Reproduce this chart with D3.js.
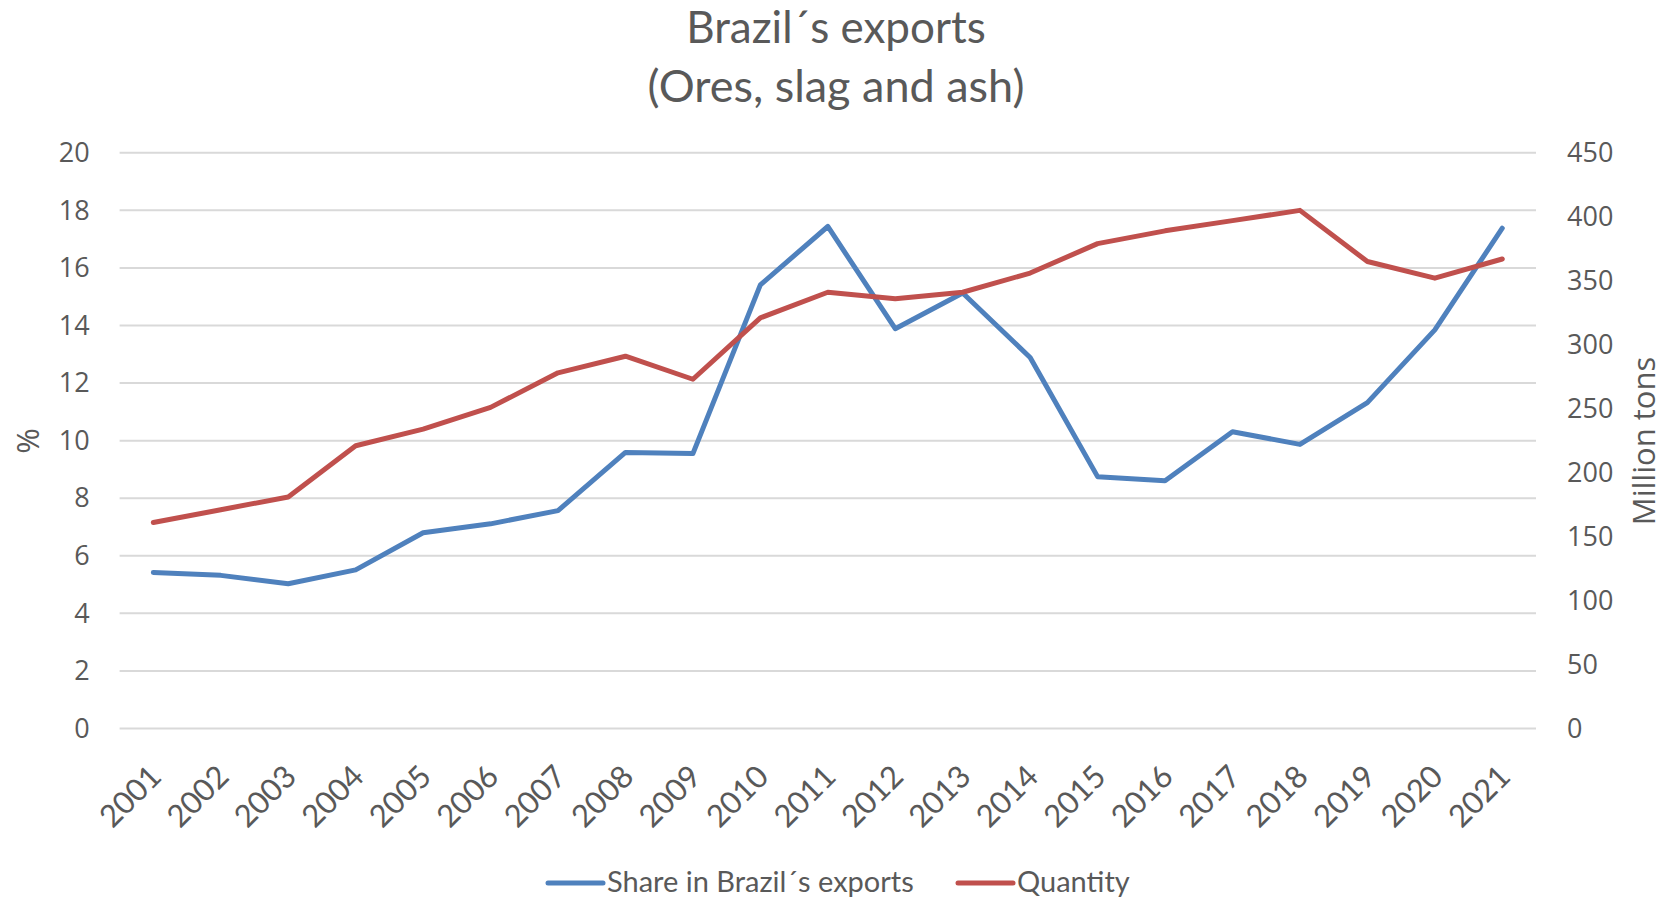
<!DOCTYPE html>
<html>
<head>
<meta charset="utf-8">
<script src="https://cdn.jsdelivr.net/npm/d3@7"></script>
<style>
  body { margin: 0; background: #fff; }
  svg { display: block; }
  .tick text { fill: #595959; }
</style>
</head>
<body>
<div class="chart"></div>
<script>
const years = ['2001', '2002', '2003', '2004', '2005', '2006', '2007', '2008', '2009', '2010', '2011',
  '2012', '2013', '2014', '2015', '2016', '2017', '2018', '2019', '2020', '2021'];
// share of ores, slag and ash in Brazil's exports (%)
const share = [5.42, 5.32, 5.03, 5.51, 6.80, 7.11, 7.57, 9.59, 9.55, 15.41, 17.44,
  13.89, 15.13, 12.89, 8.75, 8.61, 10.31, 9.87, 11.32, 13.85, 17.38];
// quantity, million tons
const quantity = [161, 171, 181, 221, 234, 251, 278, 291, 273, 321, 341,
  336, 341, 356, 379, 389, 397, 405, 365, 352, 367];
const leftTicks = [0, 2, 4, 6, 8, 10, 12, 14, 16, 18, 20];
const rightTicks = [0, 50, 100, 150, 200, 250, 300, 350, 400, 450];
const seriesNames = ['Share in Brazil´s exports', 'Quantity'];

const width = 1675;
const height = 900;
const plot = { left: 119.6, right: 1536, top: 152.8, bottom: 728.5 };
const blue = '#4f81bd';
const red = '#c0504d';
const textColor = '#595959';

const svg = d3.select('.chart').append('svg')
    .attr('width', width)
    .attr('height', height);

const x = d3.scaleBand().domain(years).range([plot.left, plot.right]).padding(0);
const yL = d3.scaleLinear().domain([0, 20]).range([plot.bottom, plot.top]);
const yR = d3.scaleLinear().domain([0, 450]).range([plot.bottom, plot.top]);
const cx = d => x(d) + x.bandwidth() / 2;

// title
svg.append('text')
    .attr('x', 836).attr('y', 43)
    .attr('text-anchor', 'middle')
    .style('font-family', 'Lato')
    .style('font-size', '44px')
    .style('fill', textColor)
    .text('Brazil´s exports');
svg.append('text')
    .attr('x', 836).attr('y', 102)
    .attr('text-anchor', 'middle')
    .style('font-family', 'Lato')
    .style('font-size', '45px')
    .style('fill', textColor)
    .text('(Ores, slag and ash)');

// gridlines
svg.append('g')
  .selectAll('line')
    .data(leftTicks)
  .enter().append('line')
    .attr('x1', plot.left)
    .attr('x2', plot.right)
    .attr('y1', d => yL(d))
    .attr('y2', d => yL(d))
    .attr('stroke', '#d9d9d9')
    .attr('stroke-width', 2);

// y axes
const left = svg.append('g')
    .attr('transform', `translate(${plot.left}, 0)`)
    .call(d3.axisLeft(yL).tickValues(leftTicks).tickSize(0).tickPadding(30));
const right = svg.append('g')
    .attr('transform', `translate(${plot.right}, 0)`)
    .call(d3.axisRight(yR).tickValues(rightTicks).tickSize(0).tickPadding(31));
[left, right].forEach(g => {
  g.select('.domain').remove();
  g.selectAll('text')
      .style('font-family', 'Open Sans')
      .style('font-size', '27px');
});

svg.append('text')
    .attr('transform', 'translate(39, 441) rotate(-90)')
    .attr('text-anchor', 'middle')
    .style('font-family', 'Open Sans')
    .style('font-size', '31px')
    .style('fill', textColor)
    .text('%');
svg.append('text')
    .attr('transform', 'translate(1655, 441) rotate(-90)')
    .attr('text-anchor', 'middle')
    .style('font-family', 'Open Sans')
    .style('font-size', '31px')
    .style('fill', textColor)
    .text('Million tons');

// x labels
svg.append('g')
  .selectAll('text')
    .data(years)
  .enter().append('text')
    .attr('transform', d => `translate(${cx(d) + 10}, ${plot.bottom + 50}) rotate(-45)`)
    .attr('text-anchor', 'end')
    .style('font-family', 'Lato')
    .style('font-size', '31px')
    .style('fill', textColor)
    .text(d => d);

// lines
const shareLine = d3.line()
    .x((d, i) => cx(years[i]))
    .y(d => yL(d));
const qtyLine = d3.line()
    .x((d, i) => cx(years[i]))
    .y(d => yR(d));

svg.append('path')
    .datum(share)
    .attr('fill', 'none')
    .attr('stroke', blue)
    .attr('stroke-width', 5)
    .attr('stroke-linejoin', 'round')
    .attr('stroke-linecap', 'round')
    .attr('d', shareLine);

svg.append('path')
    .datum(quantity)
    .attr('fill', 'none')
    .attr('stroke', red)
    .attr('stroke-width', 5)
    .attr('stroke-linejoin', 'round')
    .attr('stroke-linecap', 'round')
    .attr('d', qtyLine);

// legend
const legend = [
  { name: seriesNames[0], color: blue, x: 548 },
  { name: seriesNames[1], color: red, x: 958 },
];
const lg = svg.append('g').selectAll('g')
    .data(legend)
  .enter().append('g')
    .attr('transform', d => `translate(${d.x}, 883)`);
lg.append('line')
    .attr('x1', 0).attr('x2', 55)
    .attr('stroke', d => d.color)
    .attr('stroke-width', 5)
    .attr('stroke-linecap', 'round');
lg.append('text')
    .attr('x', 59).attr('y', 9)
    .style('font-family', 'Lato')
    .style('font-size', '29px')
    .style('fill', textColor)
    .text(d => d.name);
</script>
</body>
</html>
